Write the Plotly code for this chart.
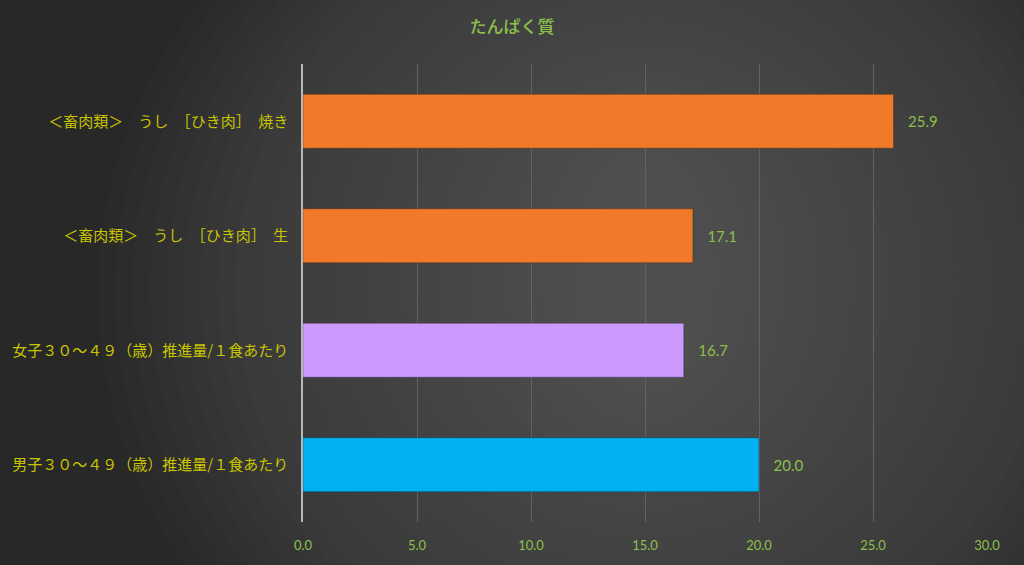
import plotly.graph_objects as go

categories = [
    "男子３０～４９（歳）推進量/１食あたり",
    "女子３０～４９（歳）推進量/１食あたり",
    "＜畜肉類＞　うし　［ひき肉］　生",
    "＜畜肉類＞　うし　［ひき肉］　焼き",
]
values = [20.0, 16.7, 17.1, 25.9]
bar_colors = ["#00B0F0", "#CC99FF", "#F07A2A", "#F07A2A"]
tick_vals = [0, 5, 10, 15, 20, 25, 30]
tick_text = ["0.0", "5.0", "10.0", "15.0", "20.0", "25.0", "30.0"]
title_text = "たんぱく質"

fig = go.Figure()
fig.add_trace(go.Bar(
    y=categories,
    x=values,
    orientation="h",
    marker=dict(color=bar_colors, line=dict(color="rgba(0,0,0,0.25)", width=1)),
    width=0.47,
    text=["\u00a0\u00a0\u00a0" + f"{v:.1f}" for v in values],
    textposition="outside",
    textfont=dict(family="Lato, Liberation Sans, sans-serif", size=15, color="#8CC04A"),
    cliponaxis=False,
    hoverinfo="skip",
))

# soft radial background glow
shapes = []
steps = 30
for i in range(steps):
    f = i / steps
    shapes.append(dict(
        type="circle", xref="paper", yref="paper", layer="below",
        x0=-0.3 + 0.75 * f, x1=1.3 - 0.75 * f,
        y0=-0.6 + 0.95 * f, y1=1.6 - 0.85 * f,
        fillcolor="rgba(115,115,115,0.035)", line=dict(width=0),
    ))

fig.update_layout(
    width=1024, height=565,
    margin=dict(l=301, r=37, t=64, b=43),
    paper_bgcolor="#282828",
    plot_bgcolor="rgba(0,0,0,0)",
    shapes=shapes,
    showlegend=False,
    title=dict(
        text=title_text, x=0.5, xanchor="center", y=0.952, yanchor="middle",
        font=dict(family="Noto Sans CJK JP", size=17, color="#8CC04A", weight=500),
    ),
    xaxis=dict(
        range=[0, 30], tickvals=tick_vals, ticktext=tick_text,
        showgrid=True, gridcolor="#626262", gridwidth=1,
        zeroline=False, showline=False, ticks="",
        tickfont=dict(family="Lato, Liberation Sans, sans-serif", size=13, color="#8CC04A"),
        ticklabelstandoff=14,
    ),
    yaxis=dict(
        categoryorder="array", categoryarray=categories,
        showgrid=False, zeroline=False,
        showline=True, linecolor="#B8B8B8", linewidth=1.5,
        ticks="", ticklabelstandoff=10,
        tickfont=dict(family="Noto Sans CJK JP", size=15, color="#C8C400"),
    ),
)

fig.write_html(
    "out.html",
    config={"displayModeBar": False},
    post_script="document.body.style.margin='0';document.body.style.padding='0';",
)
